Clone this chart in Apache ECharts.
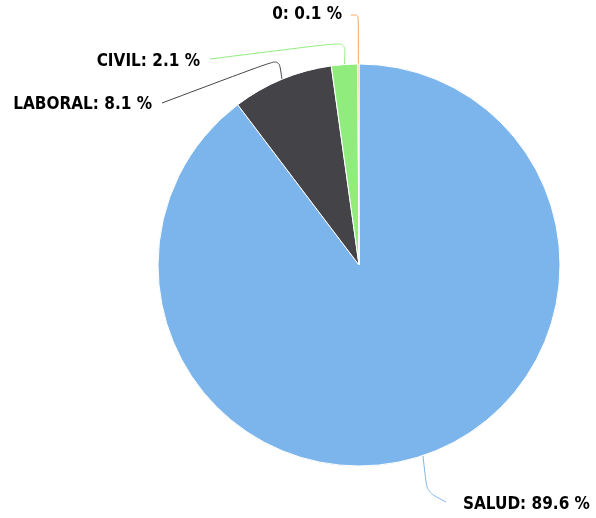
<!DOCTYPE html>
<html>
<head>
<meta charset="utf-8">
<script src="https://cdn.jsdelivr.net/npm/echarts@6/dist/echarts.min.js"></script>
<style>html,body{margin:0;padding:0;background:#fff}#c{width:596px;height:518px}</style>
</head>
<body>
<div id="c"></div>
<script>
const categories = ['SALUD', 'LABORAL', 'CIVIL', '0'];
const values = [89.6, 8.1, 2.1, 0.1];
const colors = ['#7cb5ec', '#434348', '#90ed7d', '#f7a35c'];
// label placement (annotation only): label anchor, connector elbow and end
const labelSpots = [
  { x: 463, y: 505, align: 'left',  elbowDx: 4,  elbowY: 492, endX: 446, endY: 502 },
  { x: 152, y: 105, align: 'right', elbowDx: -3, elbowY: 59,  endX: 162, endY: 103 },
  { x: 200, y: 62,  align: 'right', elbowDx: 1,  elbowY: 42,  endX: 210, endY: 59 },
  { x: 342, y: 15,  align: 'right', elbowDx: 0,  elbowY: 15,  endX: 351, endY: 15 }
];

const chart = echarts.init(document.getElementById('c'));
chart.setOption({
  animation: false,
  series: [{
    type: 'pie',
    center: [359, 265],
    radius: 201,
    startAngle: 90,
    clockwise: true,
    avoidLabelOverlap: false,
    data: categories.map((n, i) => ({ name: n, value: values[i], itemStyle: { color: colors[i] } })),
    itemStyle: { borderColor: '#fff', borderWidth: 1 },
    label: {
      formatter: p => p.name + ': ' + p.value.toFixed(1) + ' %',
      fontFamily: 'DejaVu Sans Condensed',
      fontWeight: 'bold',
      fontSize: 17,
      color: '#000',
      textBorderColor: '#fff',
      textBorderWidth: 1
    },
    labelLine: {
      show: true,
      length: 20,
      length2: 20,
      smooth: 0.25,
      lineStyle: { width: 1 }
    },
    labelLayout: p => {
      const s = labelSpots[p.dataIndex];
      const p0 = p.labelLinePoints[0];
      return {
        x: s.x, y: s.y, align: s.align, verticalAlign: 'middle',
        labelLinePoints: [
          [p0[0], p0[1]],
          [p0[0] + s.elbowDx, s.elbowY],
          [s.endX, s.endY]
        ]
      };
    }
  }]
});
</script>
</body>
</html>
